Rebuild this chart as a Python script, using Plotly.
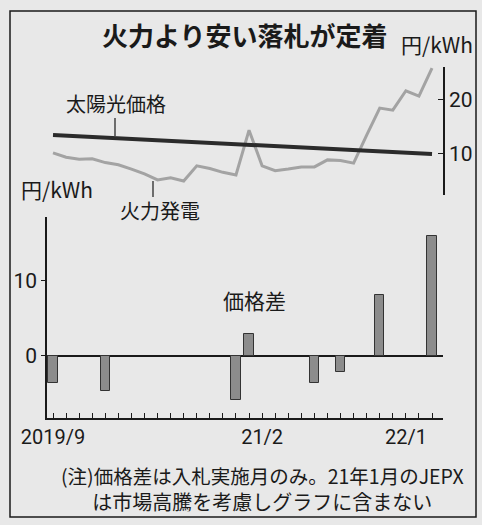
import plotly.graph_objects as go

# ---------------- data ----------------
months = [
    "2019-09", "2019-10", "2019-11", "2019-12",
    "2020-01", "2020-02", "2020-03", "2020-04", "2020-05", "2020-06",
    "2020-07", "2020-08", "2020-09", "2020-10", "2020-11", "2020-12",
    "2021-01", "2021-02", "2021-03", "2021-04", "2021-05", "2021-06",
    "2021-07", "2021-08", "2021-09", "2021-10", "2021-11", "2021-12",
    "2022-01", "2022-02",
]

# 火力発電 (JEPX) monthly price, 円/kWh
thermal_price = [10.2, 9.4, 9.0, 9.1, 8.4, 8.0, 7.2, 6.3, 5.2, 5.6,
                 5.0, 7.8, 7.3, 6.6, 6.1, 14.4, 7.8, 6.9, 7.2, 7.6,
                 7.6, 8.9, 8.8, 8.3, 13.5, 18.5, 18.1, 21.7, 20.7, 25.9]

# 太陽光価格 (trend line)
solar_months = ["2019-09", "2022-02"]
solar_price = [13.5, 10.0]

# 価格差 (only auction months)
gap_months = ["2019-09", "2020-01", "2020-11", "2020-12",
              "2021-05", "2021-07", "2021-10", "2022-02"]
gap_values = [-3.6, -4.7, -5.9, 2.9, -3.6, -2.1, 8.1, 16.0]

tick_label_months = ["2019-09", "2021-01", "2021-12"]
tick_label_texts = ["2019/9", "21/2", "22/1"]

# ---------------- layout helpers ----------------
W, H = 482, 525
BG = "#e8e8e8"
INK = "#1a1a1a"
JP = "Noto Sans CJK JP"
NUM = "Roboto, Noto Sans CJK JP"


def px(x):
    return x / W


def py(y):
    return 1 - y / H


label_map = dict(zip(tick_label_months, tick_label_texts))
ticktext = [label_map.get(m, "") for m in months]

x_dom = [px(47), px(443)]
x_range = [-0.46, 29.84]

fig = go.Figure()

fig.add_trace(go.Bar(
    x=gap_months, y=gap_values, xaxis="x", yaxis="y",
    marker=dict(color="#8c8c8c", line=dict(color="#333333", width=1)),
    width=0.72, showlegend=False,
))

fig.add_trace(go.Scatter(
    x=months, y=thermal_price, xaxis="x2", yaxis="y2", mode="lines",
    line=dict(color="#a3a3a3", width=3), showlegend=False,
))

fig.add_trace(go.Scatter(
    x=solar_months, y=solar_price, xaxis="x2", yaxis="y2", mode="lines",
    line=dict(color="#2b2b2b", width=4), showlegend=False,
))

fig.update_layout(
    width=W, height=H,
    margin=dict(l=0, r=0, t=0, b=0, autoexpand=False),
    paper_bgcolor=BG, plot_bgcolor="rgba(0,0,0,0)",
    font=dict(family=JP, color=INK),
    bargap=0,
    xaxis=dict(
        domain=x_dom, anchor="y", type="category", categoryarray=months,
        range=x_range, tickmode="array", tickvals=months, ticktext=ticktext,
        ticks="inside", ticklen=5, tickwidth=1, tickcolor=INK,
        showline=True, linecolor=INK, linewidth=1.5,
        showgrid=False, zeroline=False, automargin=False,
        tickfont=dict(family=NUM, size=20, color=INK),
    ),
    yaxis=dict(
        domain=[py(418), py(217)], anchor="x", range=[-8.27, 18.53],
        tickvals=[0, 10], ticks="outside", ticklen=4, tickwidth=1,
        tickcolor=INK, showline=True, linecolor=INK,
        linewidth=1.5, showgrid=False, automargin=False,
        zeroline=True, zerolinecolor=INK, zerolinewidth=2,
        tickfont=dict(family=NUM, size=21, color=INK),
    ),
    xaxis2=dict(
        domain=x_dom, anchor="y2", type="category", categoryarray=months,
        range=x_range, visible=False, automargin=False,
    ),
    yaxis2=dict(
        domain=[py(195), py(67)], anchor="x2", side="right",
        range=[2.4, 26.1], tickvals=[10, 20], ticks="inside", ticklen=5,
        tickwidth=1, tickcolor=INK, showline=True, automargin=False,
        linecolor=INK, linewidth=1.5, showgrid=False, zeroline=False,
        tickfont=dict(family=NUM, size=21, color=INK),
    ),
)


def note(text, x, y, size, bold=False):
    fig.add_annotation(
        text=f"<b>{text}</b>" if bold else text,
        x=px(x), y=py(y), xref="paper", yref="paper",
        xanchor="center", yanchor="middle", showarrow=False,
        font=dict(family=JP, size=size, color=INK),
    )


note("火力より安い落札が定着", 244, 35, 26, bold=True)
note("円/kWh", 437, 44, 21)
note("太陽光価格", 116, 103, 20)
note("火力発電", 160, 210, 20)
note("円/kWh", 57, 189, 21)
note("価格差", 254, 300, 21)
note('<span style="font-size:19.5px">(注)価格差は入札実施月のみ。21年1月のJEPX</span>'
     '<br>は市場高騰を考慮しグラフに含まない', 262, 488, 20)

# frame and leader lines
fig.add_shape(type="rect", xref="paper", yref="paper",
              x0=px(10), x1=px(476), y0=py(517), y1=py(11),
              line=dict(color=INK, width=1.5))
fig.add_shape(type="line", xref="paper", yref="paper",
              x0=px(115), x1=px(115), y0=py(118), y1=py(136),
              line=dict(color=INK, width=1.2))
fig.add_shape(type="line", xref="paper", yref="paper",
              x0=px(153), x1=px(153), y0=py(181), y1=py(197),
              line=dict(color=INK, width=1.2))

fig.write_html("out.html")
